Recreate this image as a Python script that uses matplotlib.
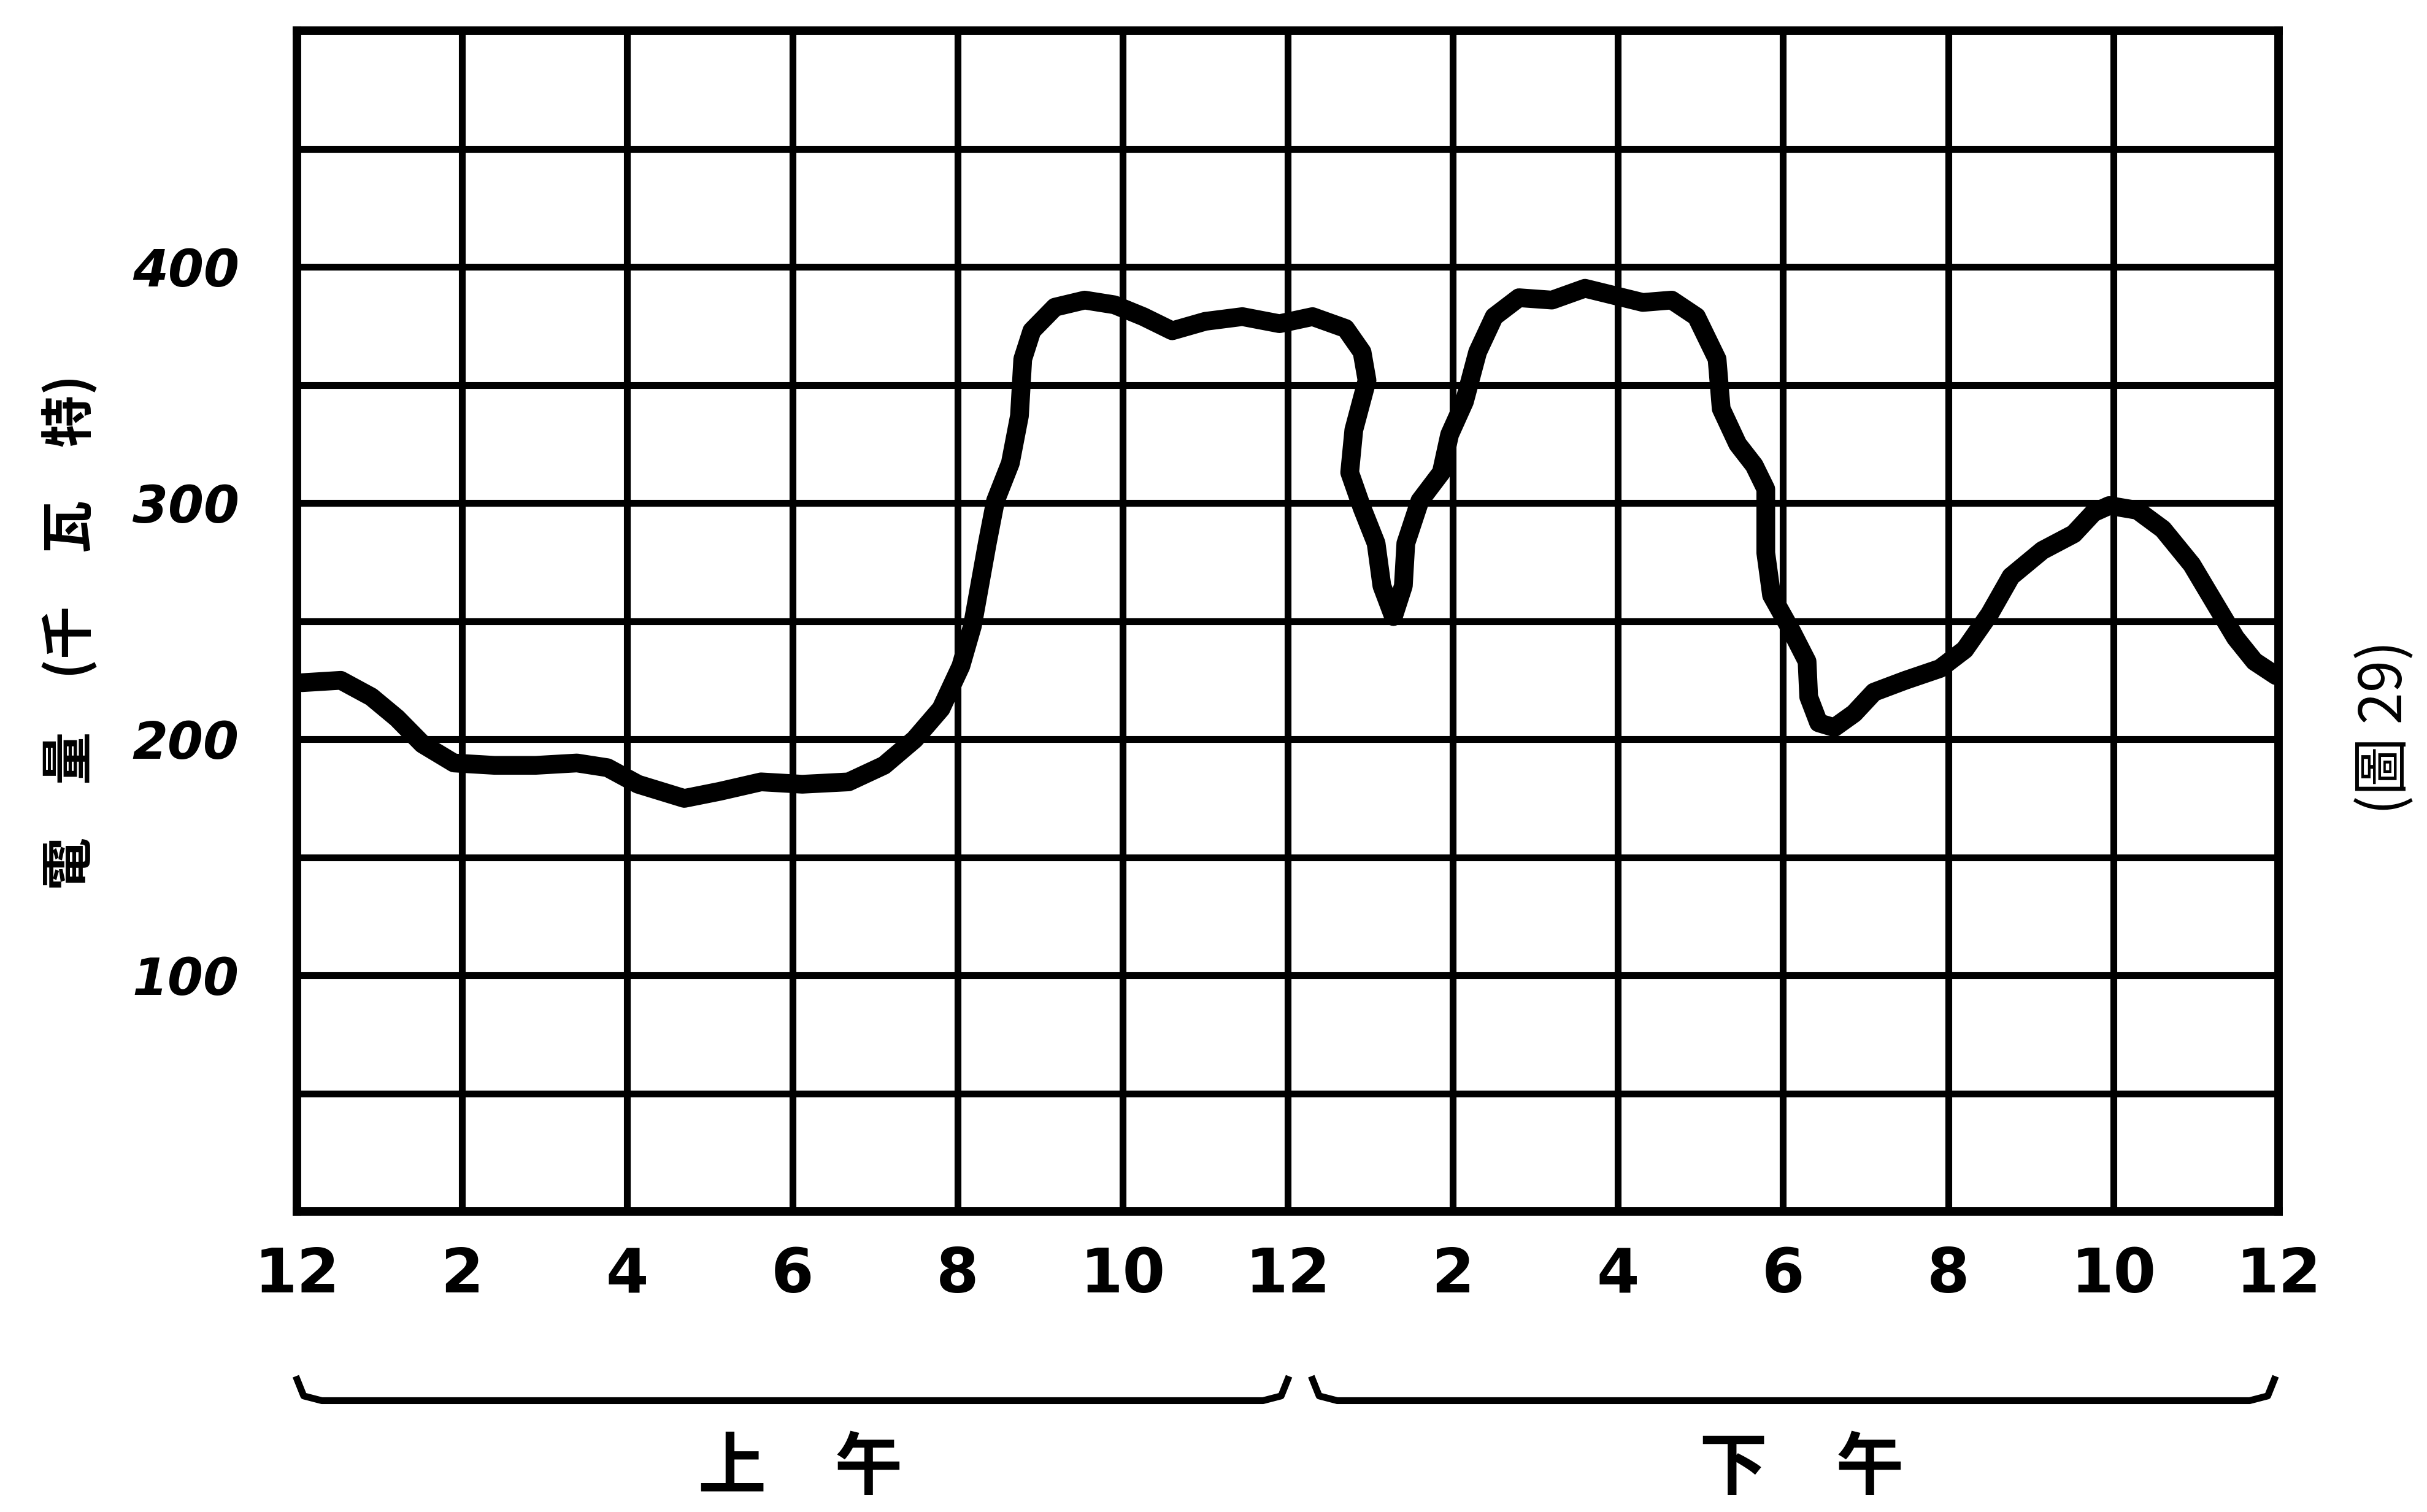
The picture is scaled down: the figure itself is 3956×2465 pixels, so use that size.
import numpy as np
import matplotlib
matplotlib.use("Agg")
import matplotlib.pyplot as plt

# load curve: hour of day (0-24) and load in kW
hours = [0.06, 0.53, 0.9, 1.21, 1.52, 1.9, 2.39, 2.89, 3.39, 3.76, 4.13, 4.69,
         5.12, 5.62, 6.12, 6.68, 7.11, 7.48, 7.8, 8.04, 8.18, 8.36, 8.46, 8.64,
         8.75, 8.79, 8.9, 9.18, 9.54, 9.9, 10.25, 10.6, 11.0, 11.45, 11.9, 12.3,
         12.7, 12.9, 12.96, 12.8, 12.75, 12.9, 13.07, 13.14, 13.28, 13.4, 13.43,
         13.6, 13.86, 13.96, 14.14, 14.3, 14.5, 14.8, 15.2, 15.6, 15.95, 16.3,
         16.65, 16.95, 17.2, 17.25, 17.45, 17.65, 17.79, 17.79, 17.86, 18.1,
         18.29, 18.31, 18.43, 18.62, 18.86, 19.1, 19.48, 19.9, 20.2, 20.5,
         20.76, 21.14, 21.52, 21.76, 21.95, 22.29, 22.6, 22.95, 23.24, 23.48,
         23.71, 23.97]
load = [224, 225, 218, 209, 198, 190, 189, 189, 190, 188, 181, 175,
        178, 182, 181, 182, 189, 200, 213, 231, 248, 283, 301, 317,
        337, 361, 373, 383, 386, 384, 379, 373, 377, 379, 376, 379,
        374, 364, 352, 331, 313, 298, 283, 265, 252, 265, 283,
        301, 313, 329, 343, 364, 379, 387, 386, 391, 388, 385,
        386, 379, 361, 340, 325, 316, 306, 279, 261, 246,
        233, 218, 207, 205, 211, 220, 225, 230, 238, 253,
        269, 280, 287, 296, 299, 297, 289, 274, 257, 243,
        233, 227]

xticks = list(range(0, 25, 2))
xlabels = ["12", "2", "4", "6", "8", "10", "12", "2", "4", "6", "8", "10", "12"]
yticks = [100, 200, 300, 400]
ylabels = ["100", "200", "300", "400"]
periods = [(0.0, 12.0, "上\u3000午"), (12.3, 23.95, "下\u3000午")]

cjk = ["Noto Sans CJK TC", "DejaVu Sans"]

fig = plt.figure(figsize=(19.78, 12.325), dpi=200)
ax = fig.add_axes([0.1224, 0.1986, 0.8164, 0.781])

# grid: every 2 hours and every 50 kW
for x in np.arange(0, 25, 2):
    ax.axvline(x, color="black", lw=4, zorder=1)
for y in np.arange(0, 501, 50):
    ax.axhline(y, color="black", lw=4, zorder=1)

ax.plot(hours, load, color="black", lw=11, solid_joinstyle="round",
        solid_capstyle="round", zorder=3)

ax.set_xlim(0, 24)
ax.set_ylim(0, 500)
for s in ax.spines.values():
    s.set_linewidth(5)

ax.set_xticks(xticks)
ax.set_xticklabels(xlabels, fontsize=36, fontweight="bold")
ax.set_yticks(yticks)
ax.set_yticklabels(ylabels, fontsize=30, fontweight="bold", style="italic")
ax.tick_params(axis="x", length=0, pad=20)
ax.tick_params(axis="y", length=0, pad=34)

# braces for morning / afternoon
for x0, x1, name in periods:
    bx = [x0, x0 + 0.08, x0 + 0.3, x1 - 0.3, x1 - 0.08, x1]
    by = [-71, -78, -80, -80, -78, -71]
    ax.plot(bx, by, color="black", lw=4, clip_on=False)
    ax.text((x0 + x1) / 2 + 0.1, -109, name, fontsize=40, fontweight="bold",
            family=cjk, ha="center", va="center", clip_on=False)

fig.text(0.029, 0.582, "電\u3000量\u3000(千\u3000瓦\u3000特)", rotation=90,
         fontsize=31, fontweight="bold", family=cjk, ha="center", va="center")
fig.text(0.983, 0.519, "(圖 29)", rotation=90, fontsize=34,
         family=cjk, ha="center", va="center")

fig.savefig("out.png", dpi=200)
